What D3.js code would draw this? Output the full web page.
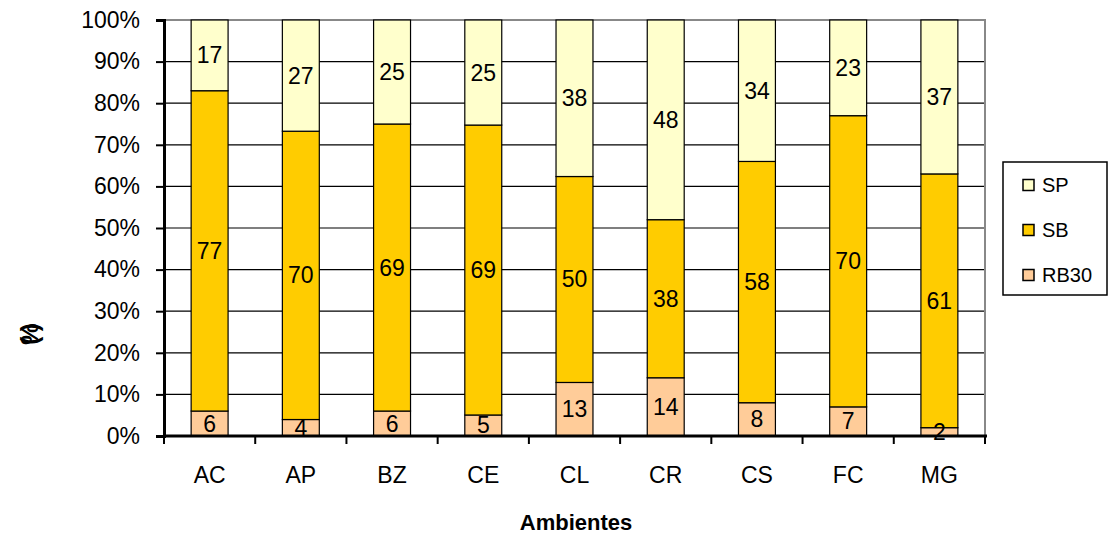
<!DOCTYPE html>
<html><head><meta charset="utf-8">
<script src="https://cdn.jsdelivr.net/npm/d3@7"></script>
<style>body{margin:0;background:#fff}svg{font-family:"Liberation Sans",Arial,sans-serif}</style>
</head><body><svg id="c" width="1108" height="536"></svg>
<script>
const categories = ["AC","AP","BZ","CE","CL","CR","CS","FC","MG"];
const RB30 = [6,4,6,5,13,14,8,7,2];
const SB   = [77,70,69,69,50,38,58,70,61];
const SP   = [17,27,25,25,38,48,34,23,37];
const seriesNames = ["RB30","SB","SP"];
const seriesColors = {RB30:"#FFCC99", SB:"#FFCC00", SP:"#FFFFCC"};
const yTicks = [0,0.1,0.2,0.3,0.4,0.5,0.6,0.7,0.8,0.9,1];

const rows = categories.map((c,i)=>({cat:c, RB30:RB30[i], SB:SB[i], SP:SP[i]}));
const svg = d3.select("#c");
const L=164, R=985, T=20, B=436;
const FS=23;
const x = d3.scaleBand().domain(categories).range([L,R]).paddingInner(0.595).paddingOuter(0.2975);
const y = d3.scaleLinear().domain([0,1]).range([B,T]);

// gridlines
svg.append("g").selectAll("line").data(yTicks.slice(1,-1)).join("line")
  .attr("x1",L).attr("x2",R).attr("y1",d=>y(d)).attr("y2",d=>y(d))
  .attr("stroke","#000").attr("stroke-width",1.2);
// border top/right
svg.append("path").attr("d",`M${L},${T}H${R}V${B}`).attr("fill","none").attr("stroke","#888").attr("stroke-width",2);

const stack = d3.stack().keys(seriesNames).offset(d3.stackOffsetExpand);
const stacked = stack(rows);
const g = svg.append("g");
stacked.forEach(s=>{
  const k=s.key;
  g.append("g").selectAll("rect").data(s).join("rect")
    .attr("x",d=>x(d.data.cat)).attr("width",x.bandwidth())
    .attr("y",d=>y(d[1])).attr("height",d=>y(d[0])-y(d[1]))
    .attr("fill",seriesColors[k]).attr("stroke","#000").attr("stroke-width",1.2);
});
stacked.forEach(s=>{
  const k=s.key;
  g.append("g").selectAll("text").data(s).join("text")
    .attr("x",d=>x(d.data.cat)+x.bandwidth()/2)
    .attr("y",d=>(y(d[0])+y(d[1]))/2)
    .attr("text-anchor","middle").attr("dominant-baseline","central")
    .attr("font-size",FS).attr("fill","#000")
    .text(d=>d.data[k]);
});

// y axis
const ya = svg.append("g").attr("transform",`translate(${L},0)`)
  .call(d3.axisLeft(y).tickValues(yTicks).tickFormat(d3.format(".0%")).tickSize(8).tickPadding(16));
ya.select(".domain").attr("stroke-width",3);
ya.selectAll(".tick line").attr("stroke-width",2);
ya.selectAll("text").attr("font-size",FS).attr("font-family","Liberation Sans, Arial, sans-serif").attr("fill","#000");

// x axis
const xa = svg.append("g").attr("transform",`translate(0,${B})`)
  .call(d3.axisBottom(x).tickSize(0).tickPadding(31));
xa.select(".domain").remove();
svg.append("line").attr("x1",L).attr("x2",R+2).attr("y1",B).attr("y2",B).attr("stroke","#000").attr("stroke-width",3);
const bnd = d3.range(categories.length+1).map(i=>L+i*x.step());
svg.append("g").selectAll("line").data(bnd).join("line")
  .attr("x1",d=>d).attr("x2",d=>d).attr("y1",B).attr("y2",B+8).attr("stroke","#000").attr("stroke-width",2);
xa.selectAll("text").attr("font-size",FS).attr("font-family","Liberation Sans, Arial, sans-serif").attr("fill","#000");

svg.append("text").attr("x",576).attr("y",530).attr("text-anchor","middle")
  .attr("font-size",22).attr("font-weight","bold").text("Ambientes");
svg.append("text").attr("transform","translate(38,338) rotate(-90)").attr("text-anchor","middle")
  .attr("font-size",24).attr("font-weight","bold").attr("letter-spacing",-8).text("(%)");

// legend
const lg = svg.append("g");
lg.append("rect").attr("x",1003).attr("y",162).attr("width",104).attr("height",133).attr("fill","#fff").attr("stroke","#000").attr("stroke-width",1.5);
const legItems = ["SP","SB","RB30"];
lg.selectAll("g").data(legItems).join("g").attr("transform",(d,i)=>`translate(1023,${185+i*45})`)
  .each(function(d){
    const e=d3.select(this);
    e.append("rect").attr("x",0).attr("y",-5.5).attr("width",11).attr("height",11).attr("fill",seriesColors[d]).attr("stroke","#000").attr("stroke-width",1.5);
    e.append("text").attr("x",19).attr("y",0).attr("dominant-baseline","central").attr("font-size",20).text(d);
  });
</script></body></html>
